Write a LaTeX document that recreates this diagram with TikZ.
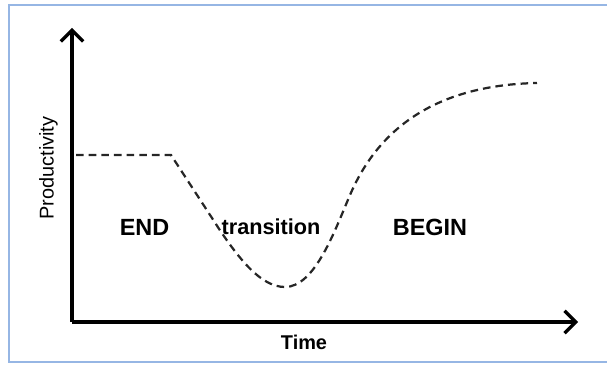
\documentclass[tikz,border=0pt]{standalone}
\usepackage{fontspec}
\setmainfont{Liberation Sans}
\usetikzlibrary{arrows.meta}
\definecolor{framblue}{RGB}{150,182,228}

\begin{document}
\begin{tikzpicture}[
  axis/.style={line width=2.8pt,-{Straight Barb[length=9.5pt,width=19pt,line width=2.8pt]}},
  curve/.style={line width=1.9pt,dash pattern=on 6.5pt off 4.3pt,black!85},
  phase/.style={font=\fontsize{20}{23}\selectfont\bfseries,inner sep=0pt}]
\useasboundingbox (0.000,0.000) rectangle (18.210,-10.950);
\draw[framblue,line width=1pt] (0.270,-0.150) rectangle (18.400,-10.860);
\coordinate (origin) at (2.160,-9.660);
\coordinate (ytip) at (2.160,-0.840);
\coordinate (xtip) at (17.340,-9.660);
\draw[axis] (origin) -- (ytip);
\draw[axis] (origin) -- (xtip);
\draw[curve] (2.280,-4.650) -- (5.130,-4.650) -- (6.360,-6.540)
  .. controls (7.200,-7.860) and (7.860,-8.610) .. (8.550,-8.610)
  .. controls (9.450,-8.610) and (10.050,-6.900) .. (10.500,-5.850)
  .. controls (11.400,-3.750) and (13.200,-2.550) .. (16.110,-2.490);
\node[phase] (end) at (4.335,-6.810) {END};
\node[phase,font=\fontsize{18.5}{21}\selectfont\bfseries] (transition) at (8.130,-6.810) {transition};
\node[phase] (begin) at (12.900,-6.810) {BEGIN};
\node[font=\fontsize{17}{20}\selectfont\bfseries] (time) at (9.120,-10.260) {Time};
\node[font=\fontsize{17}{20}\selectfont,rotate=90] (prod) at (1.455,-5.040) {Productivity};
\end{tikzpicture}
\end{document}
